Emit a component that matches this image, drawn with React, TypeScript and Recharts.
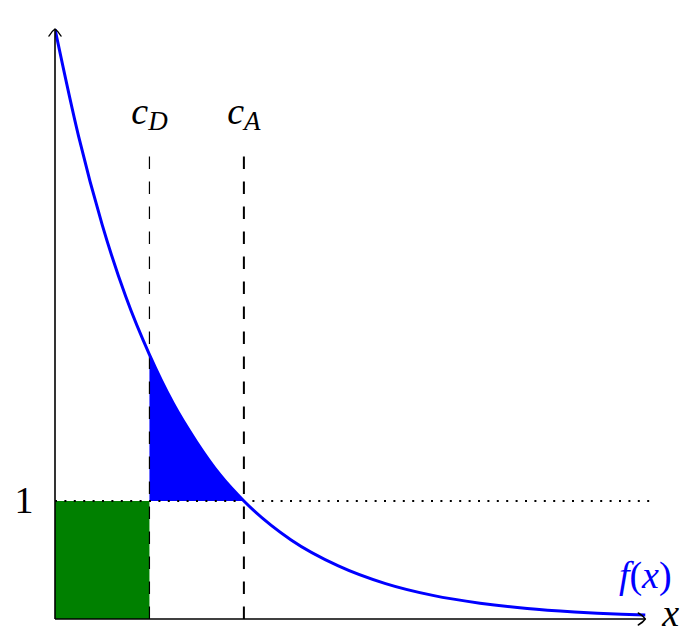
import React from 'react'
import {
  ComposedChart, Line, Area, XAxis, YAxis, ReferenceLine, ReferenceArea, ReferenceDot,
} from 'recharts'

// curve f(x)
const curveX = [0, 0.25, 0.5, 0.75, 1, 1.25, 1.5, 1.75, 2, 2.5, 3, 3.5, 4, 4.5, 5, 5.5, 6, 6.25]
const curveY = [5, 4.09, 3.34, 2.73, 2.24, 1.83, 1.5, 1.22, 1, 0.67, 0.45, 0.3, 0.2, 0.134, 0.089, 0.06, 0.04, 0.033]

// the two cut points and the level 1
const cD = 1
const cA = 2
const level = 1
const dashTop = 3.92
const xMax = 6.3
const yMax = 5
const axisEnd = 6.25

const curveData = curveX.map((x, i) => ({ x, y: curveY[i] }))
// blue region between the curve and y = 1, from c_D to c_A
const fillData = curveX
  .map((x, i) => ({ x, band: [level, curveY[i]] }))
  .filter((d) => d.x >= cD && d.x <= cA)

const SERIF = "'Liberation Serif', 'Times New Roman', Tinos, 'DejaVu Serif', 'Noto Serif', FreeSerif, serif"

const arrowHead = (tx: number, ty: number, dir: 'up' | 'right') => {
  const p = dir === 'up'
    ? `M${tx - 6},${ty + 7} C${tx - 4},${ty + 3.5} ${tx - 1.5},${ty + 1} ${tx},${ty} C${tx + 1.5},${ty + 1} ${tx + 4},${ty + 3.5} ${tx + 6},${ty + 7}`
    : `M${tx - 7},${ty - 6} C${tx - 3.5},${ty - 4} ${tx - 1},${ty - 1.5} ${tx},${ty} C${tx - 1},${ty + 1.5} ${tx - 3.5},${ty + 4} ${tx - 7},${ty + 6}`
  return <path d={p} fill="none" stroke="#000" strokeWidth={1.5} strokeLinecap="round" />
}

const AxisArrow = (dir: 'up' | 'right') => (props: any) => {
  const { x1, y1, x2, y2 } = props
  const tx = dir === 'up' ? x1 : Math.max(x1, x2)
  const ty = dir === 'up' ? Math.min(y1, y2) : y1
  return (
    <g>
      <line x1={x1} y1={y1} x2={x2} y2={y2} stroke="#000" strokeWidth={1.6} />
      {arrowHead(tx, ty, dir)}
    </g>
  )
}

const CutLabel = (sub: string) => (props: any) => (
  <text x={props.cx} y={props.cy - 32} textAnchor="middle" fontFamily={SERIF} fontSize={38} fontStyle="italic" fill="#000">
    c<tspan fontSize={27} dy={6}>{sub}</tspan>
  </text>
)

export default function App() {
  return (
    <div style={{ position: 'absolute', left: 0, top: 0, width: 700, height: 642, background: '#fff', fontFamily: SERIF }}>
      <ComposedChart width={700} height={642} margin={{ top: 29, right: 50, bottom: 23, left: 55 }} style={{ fontFamily: SERIF }}>
        <XAxis type="number" dataKey="x" domain={[0, xMax]} hide allowDataOverflow />
        <YAxis type="number" domain={[0, yMax]} hide allowDataOverflow />

        <ReferenceArea x1={0} x2={cD} y1={0} y2={level} fill="#008000" fillOpacity={1} stroke="none" />

        <Area
          data={fillData}
          dataKey="band"
          type="monotone"
          fill="#0000ff"
          fillOpacity={1}
          stroke="none"
          isAnimationActive={false}
        />

        <ReferenceLine
          segment={[{ x: cD, y: dashTop }, { x: cD, y: 0 }]}
          stroke="#000"
          strokeWidth={1.2}
          strokeDasharray="12.5 12.5"
        />
        <ReferenceLine
          segment={[{ x: cA, y: dashTop }, { x: cA, y: 0 }]}
          stroke="#000"
          strokeWidth={2}
          strokeDasharray="12.5 12.5"
        />
        <ReferenceLine
          segment={[{ x: 0, y: level }, { x: xMax, y: level }]}
          stroke="#000"
          strokeWidth={2}
          strokeDasharray="2 7.4"
        />

        <Line
          data={curveData}
          dataKey="y"
          type="monotone"
          stroke="#0000ff"
          strokeWidth={3}
          dot={false}
          isAnimationActive={false}
        />

        <ReferenceLine segment={[{ x: 0, y: 0 }, { x: 0, y: yMax }]} shape={AxisArrow('up')} />
        <ReferenceLine segment={[{ x: 0, y: 0 }, { x: axisEnd, y: 0 }]} shape={AxisArrow('right')} />

        <ReferenceDot x={cD} y={dashTop} r={0} shape={CutLabel('D')} />
        <ReferenceDot x={cA} y={dashTop} r={0} shape={CutLabel('A')} />
        <ReferenceDot
          x={0}
          y={level}
          r={0}
          shape={(p: any) => (
            <text x={p.cx - 31} y={p.cy + 12} textAnchor="middle" fontFamily={SERIF} fontSize={38} fill="#000">1</text>
          )}
        />
        <ReferenceDot
          x={axisEnd}
          y={0}
          r={0}
          shape={(p: any) => (
            <g>
              <text x={p.cx + 17} y={p.cy + 7} fontFamily={SERIF} fontSize={38} fontStyle="italic" fill="#000">x</text>
              <text x={p.cx} y={p.cy - 31} textAnchor="middle" fontFamily={SERIF} fontSize={38} fill="#0000ff">
                <tspan fontStyle="italic">f</tspan>(<tspan fontStyle="italic">x</tspan>)
              </text>
            </g>
          )}
        />
      </ComposedChart>
    </div>
  )
}
